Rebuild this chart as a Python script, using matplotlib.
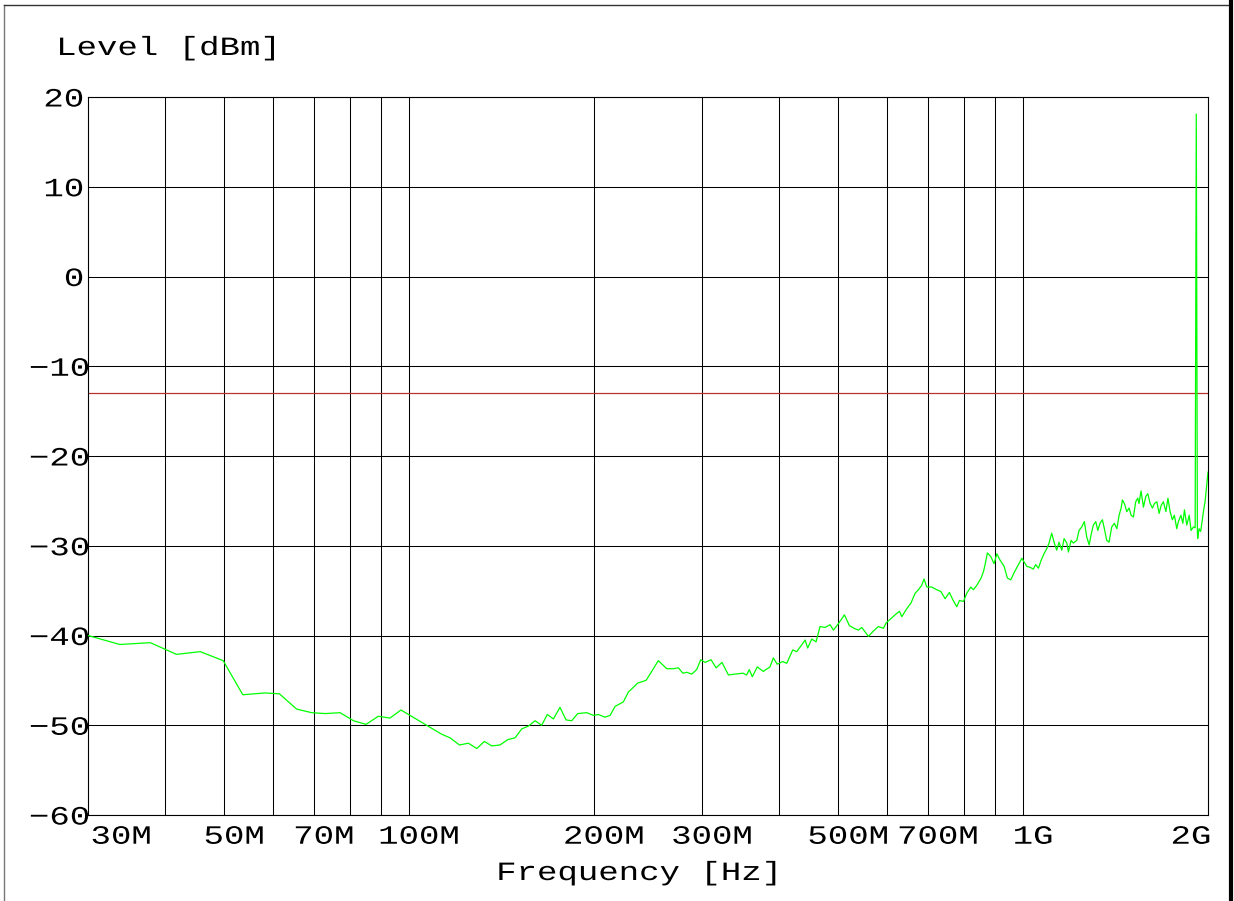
import matplotlib
matplotlib.use("Agg")
import matplotlib.pyplot as plt
from matplotlib.patheffects import AbstractPathEffect
from matplotlib.transforms import Affine2D, ScaledTranslation
from matplotlib.lines import Line2D

# ---------------- data ----------------
freq_mhz = [30.0, 33.8, 37.9, 41.8, 45.7, 49.8, 53.6, 58.3, 61.5, 65.6, 69.4, 73.0, 77.2, 81.2, 85.1,
            89.1, 93.1, 97.0, 106.8, 113.0, 116.6, 120.8, 124.9, 128.9, 132.6, 136.3, 140.6, 144.8,
            148.8, 152.6, 156.4, 160.4, 164.4, 167.9, 171.8, 176.1, 180.1, 184.0, 188.2, 194.7,
            199.6, 203.3, 208.5, 212.5, 216.5, 223.3, 227.6, 235.7, 243.2, 248.4, 254.6, 262.8,
            269.4, 274.5, 279.1, 283.3, 288.6, 294.0, 298.5,
            303.4, 310.3, 316.2, 323.2, 331.2, 339.6, 349.6, 354.6, 358.1, 362.2, 369.0, 377.4,
            387.0, 391.9, 397.7, 405.8, 412.1, 421.5, 427.8, 433.2, 441.5, 445.8, 452.6, 460.1,
            466.9, 475.7, 484.8, 491.0, 500.0, 511.6, 521.3, 530.6, 539.2, 546.0, 554.3, 559.8,
            570.3, 581.1, 592.2, 598.2, 607.2, 618.6, 628.8, 634.5, 646.5, 656.4, 666.9, 675.3,
            683.7, 689.7, 696.6, 709.8, 723.3, 734.4, 746.4, 758.4, 768.0, 779.7, 787.5, 799.5,
            809.4, 821.7, 829.8, 840.6, 854.1, 861.6, 867.0, 874.5, 885.6, 896.7, 906.0, 917.1,
            931.2, 942.6, 954.6, 966.6, 982.5, 995.1,
            1014, 1026, 1039, 1048, 1059, 1070, 1083, 1093, 1102, 1113, 1123, 1134, 1144, 1156,
            1166, 1178, 1185, 1197, 1207, 1223, 1233, 1246, 1258, 1269, 1281, 1290, 1301, 1313,
            1323, 1334, 1346, 1356, 1368, 1380, 1394, 1408, 1421, 1433, 1444, 1451, 1462, 1475,
            1488, 1499, 1512, 1525, 1537, 1544, 1556, 1570, 1584, 1596, 1610, 1624, 1636, 1651,
            1665, 1678, 1692, 1708, 1721, 1735, 1750, 1763, 1779, 1790, 1807, 1820, 1831, 1847,
            1864, 1877, 1894, 1906, 1914, 1922, 1924, 1934, 1946, 1958, 1968, 1978, 1988, 2000]

level_dbm = [-40.0, -41.0, -40.8, -42.1, -41.8, -42.8, -46.6, -46.4, -46.5, -48.2, -48.6, -48.7, -48.6, -49.5, -49.9,
             -49.0, -49.2, -48.3, -50.0, -51.0, -51.4, -52.2, -52.0, -52.6, -51.8, -52.3, -52.2, -51.6,
             -51.4, -50.4, -50.1, -49.5, -50.0, -48.8, -49.3, -48.0, -49.4, -49.5, -48.7, -48.6,
             -48.9, -48.8, -49.1, -48.9, -47.9, -47.4, -46.3, -45.3, -45.0, -44.0, -42.8, -43.7,
             -43.7, -43.6, -44.2, -44.1, -44.3, -43.8, -42.7,
             -43.0, -42.7, -43.6, -43.0, -44.4, -44.3, -44.2, -44.4, -43.8, -44.6, -43.5, -44.0,
             -43.5, -42.5, -43.2, -42.9, -43.1, -41.6, -41.8, -41.3, -40.5, -41.4, -40.4, -40.7,
             -39.0, -39.1, -38.8, -39.4, -38.7, -37.7, -38.9, -39.2, -39.4, -39.1, -39.7, -40.1,
             -39.5, -39.0, -39.2, -38.6, -38.2, -37.7, -37.3, -37.9, -37.0, -36.4, -35.3, -34.9,
             -34.4, -33.7, -34.6, -34.6, -34.9, -35.1, -35.9, -35.2, -36.0, -36.8, -36.1, -36.2,
             -35.3, -34.6, -34.9, -34.4, -33.6, -32.9, -32.1, -30.8, -31.2, -32.0, -30.9, -31.6,
             -32.3, -33.6, -33.8, -33.0, -32.1, -31.4,
             -32.3, -32.4, -32.6, -32.1, -32.5, -31.6, -30.8, -30.3, -29.7, -28.6, -29.6, -30.5, -29.6, -30.5,
             -29.2, -29.7, -30.7, -29.4, -29.7, -29.4, -28.3, -27.9, -27.3, -29.0, -29.9, -28.8, -27.7, -27.3,
             -28.3, -27.5, -27.1, -28.1, -29.4, -29.6, -27.9, -27.5, -28.1, -26.6, -25.8, -24.9, -25.3, -26.2,
             -25.8, -26.6, -26.8, -25.1, -24.7, -25.3, -23.9, -25.7, -24.5, -24.2, -25.3, -25.8, -25.3, -25.1,
             -26.4, -25.5, -25.1, -26.2, -24.7, -26.2, -27.1, -26.6, -28.1, -27.3, -26.6, -27.5, -26.0, -27.7,
             -26.6, -28.3, -27.9, -28.0, 18.1, -28.5, -29.2, -28.1, -28.4, -27.1, -26.0, -25.1, -23.6, -21.8]

limit_dbm = -13.0

xticks_mhz = [30, 50, 70, 100, 200, 300, 500, 700, 1000, 2000]
xtick_labels = ["30M", "50M", "70M", "100M", "200M", "300M", "500M", "700M", "1G", "2G"]
xgrid_mhz = [40, 50, 60, 70, 80, 90, 100, 200, 300, 400, 500, 600, 700, 800, 900, 1000]
yticks = [20, 10, 0, -10, -20, -30, -40, -50, -60]
ytick_labels = ["20", "10", "0", "\u221210", "\u221220", "\u221230", "\u221240", "\u221250", "\u221260"]

FONT = "Liberation Mono"
FS = 19
SX = 1.29


class HStretch(AbstractPathEffect):
    """Widen glyphs horizontally (the reference uses a wide plotter font)."""
    def __init__(self, sx, anchor="center"):
        super().__init__()
        self.sx = sx
        self.anchor = anchor

    def draw_path(self, renderer, gc, tpath, affine, rgbFace=None):
        ext = tpath.get_extents(affine)
        if self.anchor == "left":
            x0 = ext.x0
        elif self.anchor == "right":
            x0 = ext.x1
        else:
            x0 = 0.5 * (ext.x0 + ext.x1)
        aff = affine + Affine2D().translate(-x0, 0).scale(self.sx, 1.0).translate(x0, 0)
        renderer.draw_path(gc, tpath, aff, rgbFace)


W, H = 1234, 901
fig = plt.figure(figsize=(W / 100, H / 100), dpi=100)
fig.patch.set_facecolor("white")
ax = fig.add_axes([88 / W, 1 - 815 / H, 1120 / W, 718 / H])

ax.set_xscale("log")
ax.set_xlim(30, 2000)
ax.set_ylim(-60, 20)

# grid
for f in xgrid_mhz:
    ax.axvline(f, color="black", lw=0.75, zorder=1)
for y in yticks:
    ax.axhline(y, color="black", lw=0.75, zorder=1)

# limit line
ax.axhline(limit_dbm, color="#b83030", lw=0.9, zorder=2)

# trace
ax.plot(freq_mhz, level_dbm, color="#00ff00", lw=0.9, zorder=3)

for s in ax.spines.values():
    s.set_color("black")
    s.set_linewidth(0.8)

ax.minorticks_off()
ax.set_xticks(xticks_mhz, xtick_labels)
ax.set_yticks(yticks, ytick_labels)
ax.tick_params(axis="both", length=0, labelsize=FS)
ax.tick_params(axis="x", pad=7)
ax.tick_params(axis="y", pad=3)

for lab in ax.get_xticklabels():
    lab.set_fontfamily(FONT)
    t = lab.get_text()
    if t == "30M":
        lab.set_ha("left")
        lab.set_transform(lab.get_transform() + ScaledTranslation(3 / 100, 0, fig.dpi_scale_trans))
        lab.set_path_effects([HStretch(SX, "left")])
    elif t == "2G":
        lab.set_ha("right")
        lab.set_transform(lab.get_transform() + ScaledTranslation(3 / 100, 0, fig.dpi_scale_trans))
        lab.set_path_effects([HStretch(SX, "right")])
    else:
        lab.set_transform(lab.get_transform() + ScaledTranslation(10 / 100, 0, fig.dpi_scale_trans))
        lab.set_path_effects([HStretch(SX, "center")])

for lab in ax.get_yticklabels():
    lab.set_fontfamily(FONT)
    if lab.get_text().startswith("\u2212"):
        lab.set_transform(lab.get_transform() + ScaledTranslation(6 / 100, 0, fig.dpi_scale_trans))
    lab.set_path_effects([HStretch(SX, "right")])

ax.set_ylabel("Level [dBm]", rotation=0, fontsize=FS, family=FONT, ha="left", va="center",
              path_effects=[HStretch(SX, "left")])
ax.yaxis.set_label_coords((57 - 88) / 1120, (815 - 48) / 718)
ax.set_xlabel("Frequency [Hz]", fontsize=FS, family=FONT, ha="center", va="center",
              path_effects=[HStretch(SX, "center")])
ax.xaxis.set_label_coords((639 - 88) / 1120, (815 - 873) / 718)

# page frame of the original plot
fig.add_artist(Line2D([4 / W, 4 / W], [0, 1 - 5 / H], color="#777777", lw=1.0, transform=fig.transFigure))
fig.add_artist(Line2D([4 / W, 1229 / W], [1 - 5 / H, 1 - 5 / H], color="#333333", lw=1.0, transform=fig.transFigure))
fig.add_artist(Line2D([1230.5 / W, 1230.5 / W], [0, 1], color="black", lw=3.0, transform=fig.transFigure))

fig.savefig("out.png", dpi=100)
